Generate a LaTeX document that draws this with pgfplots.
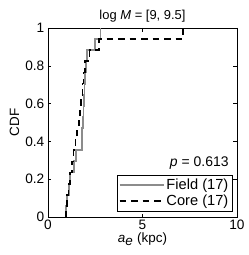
\documentclass[border=0pt]{standalone}
\usepackage{pgfplots}
\pgfplotsset{compat=1.18}
\usepackage{fontspec}
\setmainfont{Liberation Sans}
\begin{document}
\fontsize{13.5}{15}\selectfont
\begin{tikzpicture}
\begin{axis}[
  scale only axis, width=189bp, height=189bp,
  xmin=0, xmax=10, ymin=0, ymax=1,
  xtick={0,5,10}, ytick={0,0.2,0.4,0.6,0.8,1},
  yticklabels={0,0.2,0.4,0.6,0.8,1},
  tick align=inside, tick pos=both,
  major tick length=3.5bp,
  tick style={black, line width=0.5pt},
  axis line style={line width=0.6pt},
  /pgf/number format/assume math mode=true,
  ticklabel style={font=\fontsize{13.7}{15}\selectfont},
  xticklabel style={yshift=1.5bp},
  yticklabel style={xshift=1bp},
  title={log \textit{M} = [9, 9.5]},
  title style={font=\fontsize{13}{15}\selectfont, yshift=-5bp},
  xlabel={\textit{a}$_{\textit{e}}$ (kpc)},
  ylabel={CDF},
  label style={font=\fontsize{13.5}{15}\selectfont},
  xlabel style={yshift=6bp},
  ylabel style={yshift=-3bp},
  legend style={at={(1,0)}, anchor=south east, draw=black,
    font=\fontsize{14.7}{16}\selectfont, row sep=-1pt, inner sep=1.5pt,
    xshift=-5bp, yshift=6bp},
  legend cell align=left,
  legend image code/.code={\draw[#1] (0bp,0bp) -- (44bp,0bp);},
]
\addplot[const plot mark left, color=black!45, line width=1.9pt] coordinates {
(0.93,0) (0.93,0.0588) (1.02,0.1176) (1.1,0.1765) (1.15,0.2353) (1.37,0.2941)
(1.48,0.3529) (1.78,0.4118) (1.82,0.4706) (1.85,0.5294) (1.88,0.5882)
(1.9,0.6471) (1.93,0.7059) (1.96,0.7647) (2.0,0.8235) (2.08,0.8824)
(2.49,0.9412) (2.78,1.0)
};
\addlegendentry{Field (17)}
\addplot[const plot mark left, color=black, line width=1.8pt, dash pattern=on 6.5bp off 5bp] coordinates {
(0.95,0) (0.95,0.0588) (1.0,0.1176) (1.08,0.1765) (1.15,0.2353) (1.25,0.2941)
(1.35,0.3529) (1.45,0.4118) (1.55,0.4706) (1.62,0.5294) (1.7,0.5882)
(1.76,0.6471) (1.82,0.7059) (1.88,0.7647) (1.95,0.8235) (2.2,0.8824)
(2.7,0.9412) (7.13,1.0)
};
\addlegendentry{Core (17)}
\node[anchor=base east, font=\fontsize{14}{15}\selectfont] at (axis cs:9.8,0.265) {\textit{p} = 0.613};
\end{axis}
\pgfresetboundingbox
\path[use as bounding box] (-48bp,-38bp) rectangle (201bp,217bp);
\end{tikzpicture}
\end{document}
